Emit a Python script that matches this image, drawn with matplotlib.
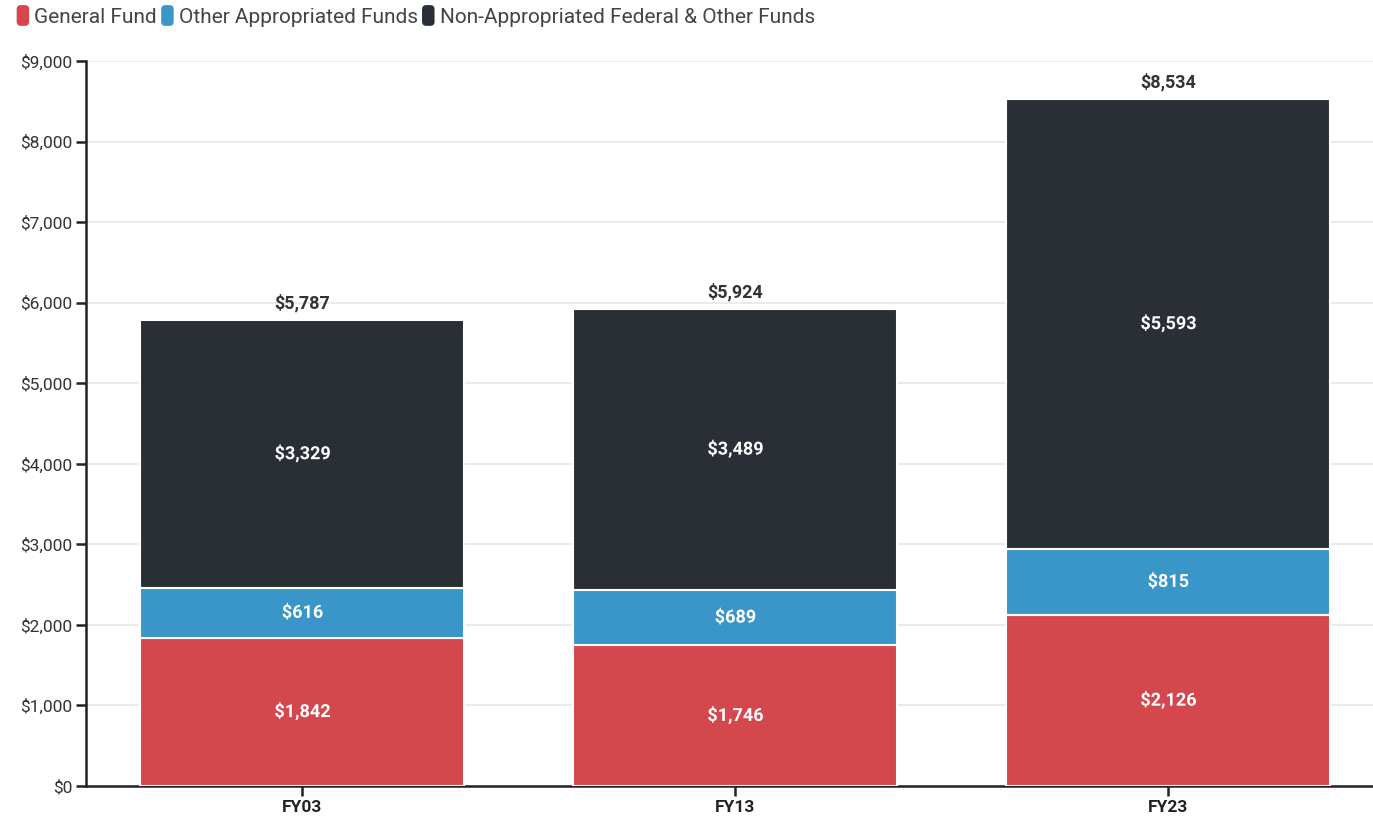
import matplotlib
matplotlib.use("Agg")
import matplotlib.pyplot as plt
import matplotlib.patheffects as pe
from matplotlib.patches import FancyBboxPatch, Patch
from matplotlib.legend_handler import HandlerPatch
import numpy as np

plt.rcParams['font.family'] = ['Roboto', 'DejaVu Sans']

categories = ["FY03", "FY13", "FY23"]
general_fund = [1842, 1746, 2126]
other_appropriated = [616, 689, 815]
non_appropriated = [3329, 3489, 5593]
series_names = ["General Fund", "Other Appropriated Funds", "Non-Appropriated Federal & Other Funds"]
colors = ["#d4474c", "#3a96c8", "#2a2f36"]

fig = plt.figure(figsize=(13.73, 8.19), dpi=100)
ax = fig.add_axes([0.0626, 0.0403, 0.9374, 0.8852])

x = np.arange(len(categories))
width = 0.748
bottom = np.zeros(len(categories))
for name, vals, col in zip(series_names, [general_fund, other_appropriated, non_appropriated], colors):
    vals = np.array(vals, dtype=float)
    ax.bar(x, vals, width, bottom=bottom, color=col, edgecolor="white", linewidth=1.5, zorder=3)
    for xi, b, v in zip(x, bottom, vals):
        ax.text(xi, b + v / 2, f"${int(v):,}", ha="center", va="center", color="white",
                fontsize=13, fontweight="bold", zorder=5,
                path_effects=[pe.withStroke(linewidth=2, foreground=col)])
    bottom = bottom + vals

for xi, tot in zip(x, bottom):
    ax.text(xi, tot + 90, f"${int(tot):,}", ha="center", va="bottom", color="#333333",
            fontsize=13, fontweight="bold", zorder=5)

ax.set_xlim(-0.5, 2.473)
ax.set_ylim(0, 9000)
ax.set_yticks(np.arange(0, 9001, 1000))
ax.set_yticklabels([f"${v:,}" for v in range(0, 9001, 1000)])
ax.set_xticks(x)
ax.set_xticklabels(categories, fontweight="bold")
ax.grid(axis="y", color="#ebebeb", linewidth=1.5, zorder=0)
ax.set_axisbelow(True)
for s in ["top", "right"]:
    ax.spines[s].set_visible(False)
ax.spines["left"].set_color("#222222")
ax.spines["bottom"].set_color("#222222")
ax.spines["left"].set_linewidth(1.8)
ax.spines["bottom"].set_linewidth(1.8)
ax.tick_params(axis="y", length=7, width=1.8, color="#222222", labelsize=12.5, labelcolor="#333333", pad=3)
ax.tick_params(axis="x", length=7, width=1.8, color="#222222", labelsize=12.5, labelcolor="#222222", pad=3)


class RoundHandler(HandlerPatch):
    def create_artists(self, legend, orig_handle, xdescent, ydescent, width, height, fontsize, trans):
        h = height * 1.2
        p = FancyBboxPatch((-xdescent, -ydescent - (h - height) / 2), width, h,
                           boxstyle="round,pad=0,rounding_size=3",
                           facecolor=orig_handle.get_facecolor(), edgecolor="none", transform=trans)
        return [p]


handles = [Patch(facecolor=c) for c in colors]
leg = fig.legend(handles, series_names, loc="upper left", bbox_to_anchor=(0.0, 1.012), ncol=3,
                 frameon=False, fontsize=15, handlelength=0.6, handleheight=0.9, handletextpad=0.25,
                 columnspacing=0.2, labelcolor="#444444", borderpad=0.3,
                 handler_map={Patch: RoundHandler()})

fig.savefig("out.png", dpi=100)
